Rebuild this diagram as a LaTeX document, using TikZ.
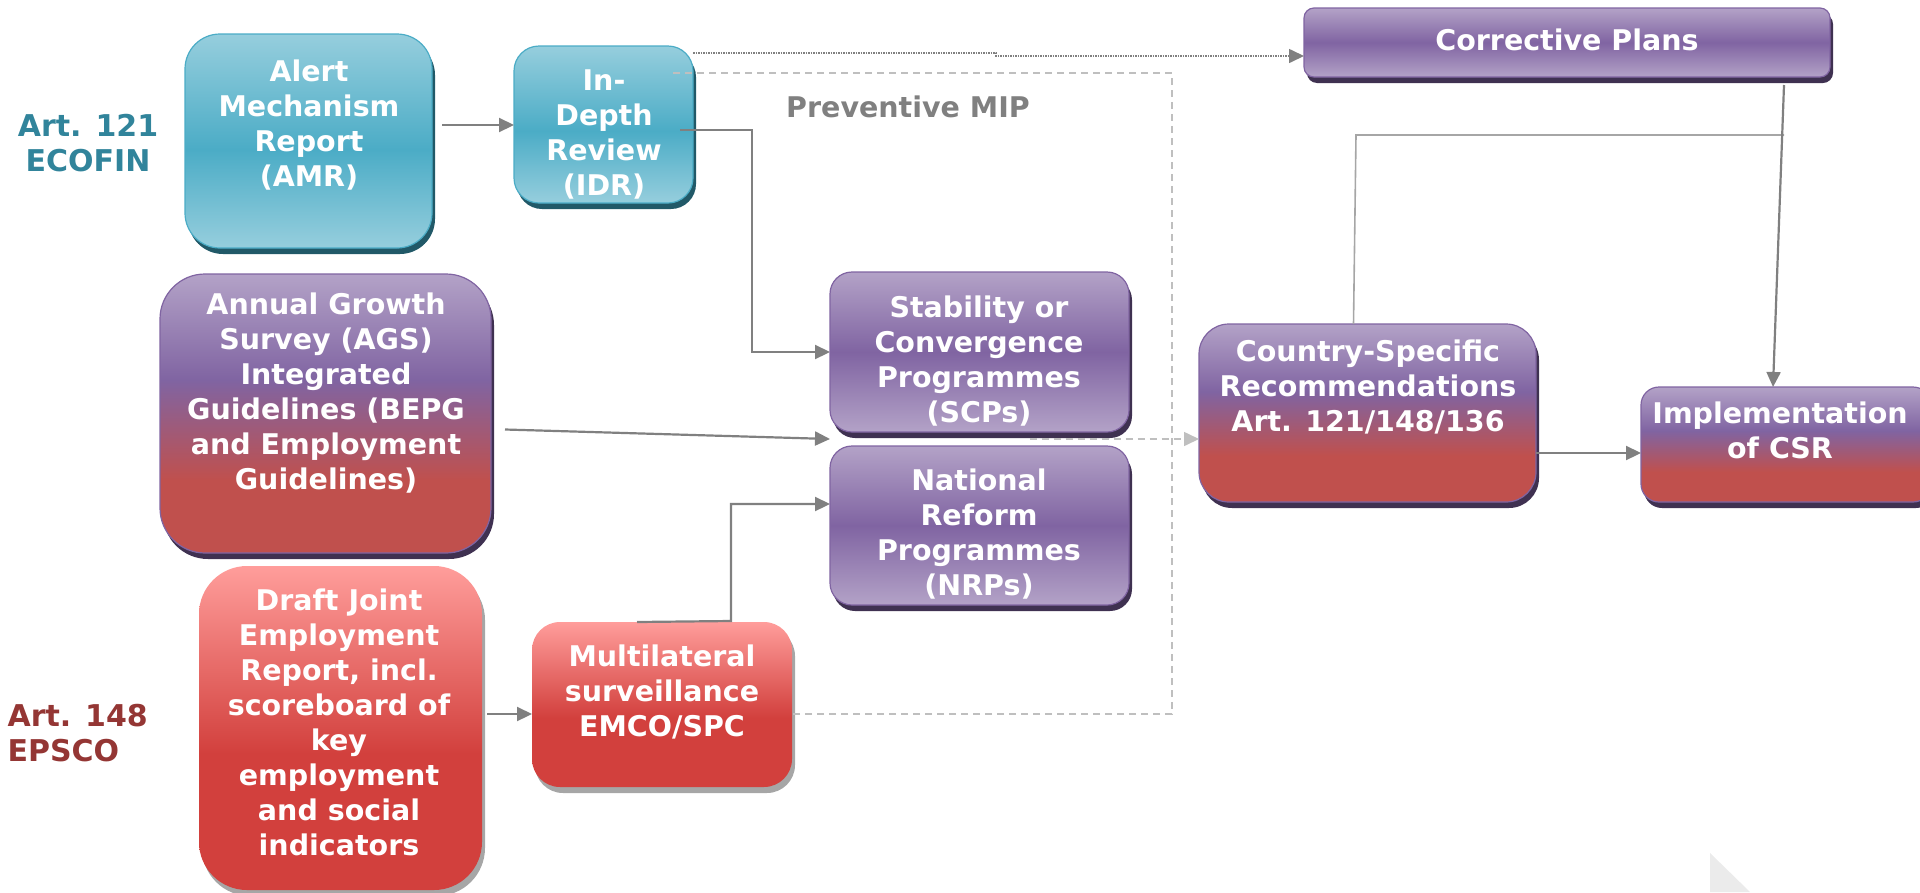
\documentclass[tikz,border=0pt]{standalone}
\usepackage{fontspec}
\setmainfont{DejaVu Sans}
\usetikzlibrary{arrows.meta,shadows,calc}

\definecolor{tealL}{HTML}{96CEDD}
\definecolor{tealM}{HTML}{4BACC6}
\definecolor{tealD}{HTML}{215968}
\definecolor{tealT}{HTML}{31849B}
\definecolor{purL}{HTML}{B3A2C7}
\definecolor{purM}{HTML}{8064A2}
\definecolor{purD}{HTML}{3F3151}
\definecolor{redB}{HTML}{C0504D}
\definecolor{pinkL}{HTML}{FF9D9B}
\definecolor{redM}{HTML}{D2403D}
\definecolor{redT}{HTML}{943634}
\definecolor{lineG}{HTML}{808080}
\definecolor{dashG}{HTML}{BFBFBF}

\pgfdeclareverticalshading{tealshade}{100bp}{color(0bp)=(tealL); color(25bp)=(tealL); color(48bp)=(tealM); color(75bp)=(tealL); color(100bp)=(tealL)}
\pgfdeclareverticalshading{purshade}{100bp}{color(0bp)=(purL); color(25bp)=(purL); color(50bp)=(purM); color(75bp)=(purL); color(100bp)=(purL)}
\pgfdeclareverticalshading{purredshade}{100bp}{color(0bp)=(redB); color(25bp)=(redB); color(38bp)=(redB); color(56bp)=(purM); color(75bp)=(purL); color(100bp)=(purL)}
\pgfdeclareverticalshading{redshade}{100bp}{color(0bp)=(redM); color(25bp)=(redM); color(46bp)=(redM); color(75bp)=(pinkL); color(100bp)=(pinkL)}

\newcommand\boxfont{\fontsize{28.5}{35}\selectfont\bfseries}

\begin{document}
\begin{tikzpicture}[x=1pt,y=-1pt,
  box/.style={anchor=north west,inner sep=0pt,outer sep=0pt,line width=1.2pt},
  tealbox/.style={box,shading=tealshade,draw=tealM,
    drop shadow={shadow xshift=3pt,shadow yshift=-6pt,fill=tealD,opacity=1}},
  purbox/.style={box,shading=purshade,draw=purM,
    drop shadow={shadow xshift=3pt,shadow yshift=-6pt,fill=purD,opacity=1}},
  purredbox/.style={box,shading=purredshade,draw=purM,
    drop shadow={shadow xshift=3pt,shadow yshift=-6pt,fill=purD,opacity=1}},
  redbox/.style={box,shading=redshade,draw=none,
    drop shadow={shadow xshift=3pt,shadow yshift=-6pt,fill=black!35,opacity=1}},
  txt/.style={text=white,align=center,font=\boxfont,inner sep=0pt},
  arr/.style={draw=lineG,line width=2.2pt,-{Triangle[length=15pt,width=14pt]}},
  dasharr/.style={draw=dashG,line width=1.6pt,dash pattern=on 7pt off 5pt,-{Triangle[length=15pt,width=14pt]}},
  dotarr/.style={draw=lineG,line width=1.6pt,dash pattern=on 1.5pt off 1pt,-{Triangle[length=15pt,width=14pt]}},
  conn/.style={draw=black!35,line width=1.6pt}]
\useasboundingbox (0,0) rectangle (1920,892);

% left labels
\node[text=tealT,align=center,font=\fontsize{30}{35}\selectfont\bfseries] (art121) at (88,143) {Art. 121\\ECOFIN};
\node[text=redT,align=left,anchor=west,font=\fontsize{30}{35}\selectfont\bfseries] (art148) at (4,733) {Art. 148\\EPSCO};

% boxes
\node[tealbox,rounded corners=35pt,minimum width=247pt,minimum height=214pt] (amr) at (185,34) {};
\node[tealbox,rounded corners=25pt,minimum width=179pt,minimum height=157pt] (idr) at (514,46) {};
\node[purbox,rounded corners=10pt,minimum width=526pt,minimum height=69pt] (cp) at (1304,8) {};
\node[purbox,rounded corners=22pt,minimum width=299pt,minimum height=160pt] (scp) at (830,272) {};
\node[purbox,rounded corners=22pt,minimum width=299pt,minimum height=159pt] (nrp) at (830,446) {};
\node[purredbox,rounded corners=45pt,minimum width=331pt,minimum height=279pt] (ags) at (160,274) {};
\node[redbox,rounded corners=48pt,minimum width=283pt,minimum height=324pt] (djer) at (199,566) {};
\node[redbox,rounded corners=28pt,minimum width=260pt,minimum height=165pt] (mls) at (532,622) {};
\node[purredbox,rounded corners=30pt,minimum width=337pt,minimum height=178pt] (csr) at (1199,324) {};
\node[purredbox,rounded corners=18pt,minimum width=290pt,minimum height=115pt] (impl) at (1641,387) {};

% texts
\node[txt] (amrtxt) at (309,125) {Alert\\Mechanism\\Report\\(AMR)};
\node[txt] (idrtxt) at (604,134) {In-\\Depth\\Review\\(IDR)};
\node[txt] (cptxt) at (1567,40) {Corrective Plans};
\node[text=lineG,font=\boxfont] (mip) at (908,107) {Preventive MIP};
\node[txt] (scptxt) at (979,361) {Stability or\\Convergence\\Programmes\\(SCPs)};
\node[txt] (nrptxt) at (979,534) {National\\Reform\\Programmes\\(NRPs)};
\node[txt] (agstxt) at (326,393) {Annual Growth\\Survey (AGS)\\Integrated\\Guidelines (BEPG\\and Employment\\Guidelines)};
\node[txt] (djertxt) at (339,722) {Draft Joint\\Employment\\Report, incl.\\scoreboard of\\key\\employment\\and social\\indicators};
\node[txt] (mlstxt) at (662,692) {Multilateral\\surveillance\\EMCO/SPC};
\node[txt] (csrtxt) at (1368,387) {Country-Specific\\Recommendations\\Art. 121/148/136};
\node[txt] (impltxt) at (1780,430) {Implementation\\of CSR};

% connectors
\coordinate (gap) at ($(scp.south)!0.5!(nrp.north)$);
\draw[dash pattern=on 7pt off 5pt,draw=dashG,line width=1.6pt] (673,73) -- (1172,73) -- (1172,714) -- (mls.east |- 0,714);
\draw[dasharr] ([xshift=50pt]gap) -- (csr.west |- gap);
\draw[dotarr] (idr.north east |- 0,53) -- (996,53) -- (996,56) -- (cp.west |- 0,56);
\draw[arr] ([xshift=10pt]amr.east |- amrtxt) -- (idr.west |- amrtxt);
\draw[arr] (680,130) -- (752,130) |- (scp.west);
\draw[arr] ([xshift=14pt,yshift=-16pt]ags.east) -- (scp.south west |- gap);
\draw[arr] ([xshift=-25pt]mls.north) -- (731,621) |- (nrp.west |- 0,504);
\draw[arr] ([xshift=5pt]djer.east |- 0,714) -- (mls.west |- 0,714);
\draw[conn] ([xshift=-14pt]csr.north) -- (1356,135) -- (1784,135);
\draw[arr] ([xshift=217pt,yshift=-8pt]cp.south) -- (1773,387);
\draw[arr] (csr.east |- 0,453) -- (impl.west |- 0,453);

% corner mark
\fill[black!8] (1710,853) -- (1750,892) -- (1710,892) -- cycle;
\end{tikzpicture}
\end{document}
